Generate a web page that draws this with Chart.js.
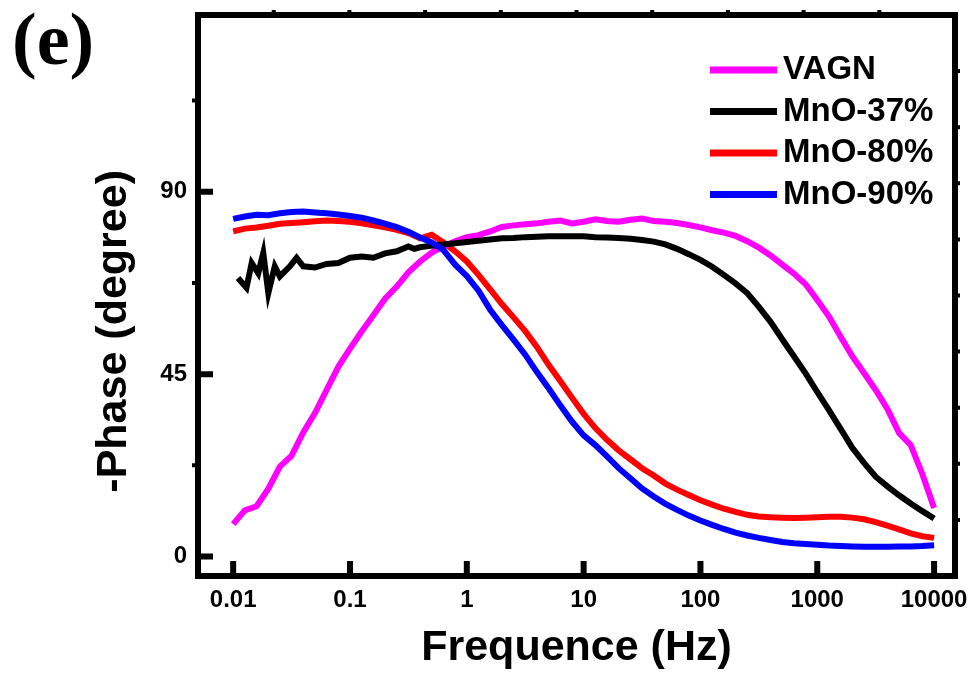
<!DOCTYPE html>
<html>
<head>
<meta charset="utf-8">
<script src="https://cdn.jsdelivr.net/npm/chart.js@4.4.0/dist/chart.umd.min.js"></script>
<style>
  html, body { margin: 0; padding: 0; background: #fff; }
</style>
</head>
<body>
<canvas id="phase-chart" width="974" height="680"></canvas>
<script>
// Frekuensi (Hz), 10 titik per dekade
const freq = [
  0.01, 0.01259, 0.01585, 0.01995, 0.02512, 0.03162, 0.03981, 0.05012, 0.0631, 0.07943,
  0.1, 0.1259, 0.1585, 0.1995, 0.2512, 0.3162, 0.3981, 0.5012, 0.631, 0.7943,
  1, 1.259, 1.585, 1.995, 2.512, 3.162, 3.981, 5.012, 6.31, 7.943,
  10, 12.59, 15.85, 19.95, 25.12, 31.62, 39.81, 50.12, 63.1, 79.43,
  100, 125.9, 158.5, 199.5, 251.2, 316.2, 398.1, 501.2, 631, 794.3,
  1000, 1259, 1585, 1995, 2512, 3162, 3981, 5012, 6310, 7943,
  10000
];

// MnO-37% punya titik lebih rapat di frekuensi rendah (noise)
const freqMnO37 = [
  0.011, 0.013, 0.0144, 0.0164, 0.0181, 0.02, 0.0227, 0.0251, 0.0306, 0.0349, 0.0398,
  0.05012, 0.0631, 0.07943,
  0.1, 0.1259, 0.1585, 0.1995, 0.2512, 0.3162, 0.355, 0.3981, 0.5012, 0.631, 0.7943,
  1, 1.259, 1.585, 1.995, 2.512, 3.162, 3.981, 5.012, 6.31, 7.943,
  10, 12.59, 15.85, 19.95, 25.12, 31.62, 39.81, 50.12, 63.1, 79.43,
  100, 125.9, 158.5, 199.5, 251.2, 316.2, 398.1, 501.2, 631, 794.3,
  1000, 1259, 1585, 1995, 2512, 3162, 3981, 5012, 6310, 7943,
  10000
];

const phaseVAGN = [
  8.0, 11.4, 12.4, 16.7, 22.2, 24.9, 30.6, 35.4, 41.1, 46.8,
  51.3, 55.5, 59.5, 63.6, 66.6, 70.1, 72.8, 75.0, 76.5, 77.8,
  78.8, 79.3, 80.2, 81.3, 81.7, 82.0, 82.2, 82.6, 82.9, 82.2,
  82.6, 83.2, 82.8, 82.6, 83.1, 83.4, 82.8, 82.6, 82.3, 81.8,
  81.2, 80.5, 79.9, 79.1, 77.8, 76.2, 74.3, 72.0, 69.8, 67.2,
  63.3, 59.2, 54.2, 49.4, 45.3, 41.1, 36.4, 30.5, 27.5, 20.3,
  12.0
];

const phaseMnO37 = [
  68.7, 66.3, 72.4, 69.9, 74.9, 65.0, 71.6, 69.1, 71.6, 73.7, 71.6,
  71.3, 72.2, 72.4,
  73.7, 74.0, 73.7, 74.8, 75.3, 76.5, 75.9, 76.3, 76.7, 77.0, 77.3,
  77.6, 77.9, 78.2, 78.5, 78.6, 78.8, 78.9, 79.0, 79.0, 79.0,
  79.0, 78.8, 78.7, 78.6, 78.4, 78.1, 77.7, 77.0, 75.9, 74.6,
  73.2, 71.5, 69.5, 67.4, 65.0, 61.6, 57.9, 53.6, 49.4, 45.2,
  40.6, 36.1, 31.5, 26.8, 23.1, 19.7, 17.3, 15.1, 13.1, 11.2,
  9.4
];

const phaseMnO80 = [
  80.2, 80.9, 81.2, 81.6, 82.1, 82.3, 82.5, 82.7, 82.9, 82.8,
  82.6, 82.2, 81.7, 81.2, 80.6, 79.8, 78.5, 79.4, 77.5, 75.3,
  72.8, 69.5, 65.9, 62.3, 59.0, 55.6, 51.7, 47.3, 43.3, 39.2,
  35.2, 31.7, 28.8, 26.2, 24.0, 21.8, 20.0, 18.0, 16.5, 15.2,
  13.9, 12.8, 11.8, 11.0, 10.3, 9.9, 9.7, 9.6, 9.5, 9.6,
  9.7, 9.8, 9.8, 9.6, 9.2, 8.5, 7.6, 6.7, 5.7, 5.0,
  4.6
];

const phaseMnO90 = [
  83.3, 83.9, 84.3, 84.2, 84.7, 85.0, 85.1, 84.9, 84.7, 84.4,
  84.0, 83.6, 82.9, 82.1, 81.3, 80.1, 78.7, 77.5, 75.6, 72.0,
  69.2, 65.6, 60.9, 57.1, 53.5, 49.8, 45.5, 41.5, 37.3, 33.3,
  29.9, 27.5, 24.7, 21.8, 19.3, 16.8, 14.8, 13.0, 11.5, 10.1,
  8.9, 7.8, 6.8, 5.9, 5.2, 4.6, 4.1, 3.6, 3.3, 3.1,
  2.9, 2.7, 2.6, 2.5, 2.4, 2.4, 2.4, 2.5, 2.5, 2.6,
  2.8
];

const seriesLabels = ['VAGN', 'MnO-37%', 'MnO-80%', 'MnO-90%'];
const seriesColors = ['#ff00ff', '#000000', '#ff0000', '#0000ff'];
const xTickValues = [0.01, 0.1, 1, 10, 100, 1000, 10000];
const yTickValues = [0, 45, 90];
const yMinorValues = [22.5, 67.5, 112.5];
const panelLabel = '(e)';

Chart.defaults.font.family = '"Liberation Sans", Arial, sans-serif';
Chart.defaults.color = '#000';

function toPoints(xs, ys) {
  return xs.map((x, i) => ({ x: x, y: ys[i] }));
}

function makeDataset(idx, xs, ys, order) {
  return {
    label: seriesLabels[idx],
    data: toPoints(xs, ys),
    borderColor: seriesColors[idx],
    backgroundColor: seriesColors[idx],
    borderWidth: 6,
    pointRadius: 0,
    tension: 0,
    fill: false,
    order: order
  };
}

// Bingkai + tick ke dalam (gaya Origin)
const frameTicks = {
  id: 'frameTicks',
  afterDatasetsDraw(chart) {
    const { ctx, chartArea: a, scales } = chart;
    ctx.save();
    ctx.strokeStyle = '#000';
    ctx.lineWidth = 6;
    ctx.strokeRect(a.left, a.top, a.right - a.left, a.bottom - a.top);

    ctx.lineWidth = 6;
    ctx.beginPath();
    scales.x.ticks.forEach(t => {
      const px = scales.x.getPixelForValue(t.value);
      ctx.moveTo(px, a.bottom);
      ctx.lineTo(px, a.bottom - 15);
    });
    scales.y.ticks.forEach(t => {
      const py = scales.y.getPixelForValue(t.value);
      ctx.moveTo(a.left, py);
      ctx.lineTo(a.left + 15, py);
    });
    ctx.stroke();

    ctx.lineWidth = 4;
    ctx.beginPath();
    yMinorValues.forEach(v => {
      const py = scales.y.getPixelForValue(v);
      ctx.moveTo(a.left, py);
      ctx.lineTo(a.left - 6, py);
    });
    scales.x2.ticks.slice(1, -1).forEach(t => {
      const px = scales.x2.getPixelForValue(t.value);
      ctx.moveTo(px, a.top);
      ctx.lineTo(px, a.top - 5);
    });
    scales.y2.ticks.slice(1, -1).forEach(t => {
      const py = scales.y2.getPixelForValue(t.value);
      ctx.moveTo(a.right, py);
      ctx.lineTo(a.right + 5, py);
    });
    ctx.stroke();
    ctx.restore();
  }
};

// Legenda di dalam area plot + label panel
const insideLegend = {
  id: 'insideLegend',
  afterDraw(chart) {
    const { ctx, chartArea: a } = chart;
    const x0 = a.right - 245;
    const y0 = a.top + 55;
    const rowH = 41.5;
    ctx.save();
    ctx.font = 'bold 33px "Liberation Sans", Arial, sans-serif';
    ctx.textBaseline = 'alphabetic';
    ctx.textAlign = 'left';
    chart.data.datasets.forEach((ds, i) => {
      const y = y0 + i * rowH;
      ctx.fillStyle = ds.borderColor;
      ctx.fillRect(x0, y - 3.5, 67, 7);
      ctx.fillStyle = '#000';
      ctx.fillText(ds.label, x0 + 73, y + 9);
    });
    ctx.font = 'bold 74px "Liberation Serif", "Times New Roman", serif';
    ctx.fillText(panelLabel, 12, 64);
    ctx.restore();
  }
};

new Chart(document.getElementById('phase-chart').getContext('2d'), {
  type: 'line',
  data: {
    datasets: [
      makeDataset(0, freq, phaseVAGN, 3),
      makeDataset(1, freqMnO37, phaseMnO37, 2),
      makeDataset(2, freq, phaseMnO80, 4),
      makeDataset(3, freq, phaseMnO90, 1)
    ]
  },
  options: {
    responsive: false,
    animation: false,
    devicePixelRatio: 1,
    layout: { padding: { left: 0, top: 15, right: 19, bottom: 0 } },
    plugins: {
      legend: { display: false },
      tooltip: { enabled: false }
    },
    scales: {
      x: {
        type: 'logarithmic',
        position: 'bottom',
        min: 0.005,
        max: 15100,
        afterBuildTicks: s => { s.ticks = xTickValues.map(v => ({ value: v })); },
        afterFit: s => {
          s.height = 104;
          s.paddingLeft = 0;
          s.paddingRight = 0;
        },
        ticks: {
          callback: v => String(v),
          font: { size: 24, weight: 'bold' },
          padding: 10,
          maxRotation: 0,
          autoSkip: false
        },
        grid: { display: false, drawTicks: false },
        border: { display: false },
        title: {
          display: true,
          text: 'Frequence (Hz)',
          font: { size: 43, weight: 'bold', lineHeight: 1 },
          padding: { top: 0, bottom: 10.5 }
        }
      },
      y: {
        type: 'linear',
        position: 'left',
        min: -4.8,
        max: 133.6,
        afterBuildTicks: s => { s.ticks = yTickValues.map(v => ({ value: v })); },
        afterFit: s => {
          s.width = 198;
          s.paddingTop = 0;
          s.paddingBottom = 0;
        },
        ticks: {
          font: { size: 24, weight: 'bold' },
          padding: 11
        },
        grid: { display: false, drawTicks: false },
        border: { display: false },
        title: {
          display: true,
          text: '-Phase (degree)      ',
          font: { size: 43, weight: 'bold', lineHeight: 1 },
          padding: { top: 92.5, bottom: 0 }
        }
      },
      x2: {
        type: 'linear',
        position: 'top',
        min: 0,
        max: 10,
        ticks: { display: false, stepSize: 1 },
        grid: { display: false, drawTicks: false },
        border: { display: false },
        afterFit: s => { s.height = 0; s.paddingLeft = 0; s.paddingRight = 0; }
      },
      y2: {
        type: 'linear',
        position: 'right',
        min: 0,
        max: 10,
        ticks: { display: false, stepSize: 1 },
        grid: { display: false, drawTicks: false },
        border: { display: false },
        afterFit: s => { s.width = 0; s.paddingTop = 0; s.paddingBottom = 0; }
      }
    }
  },
  plugins: [frameTicks, insideLegend]
});
</script>
</body>
</html>
